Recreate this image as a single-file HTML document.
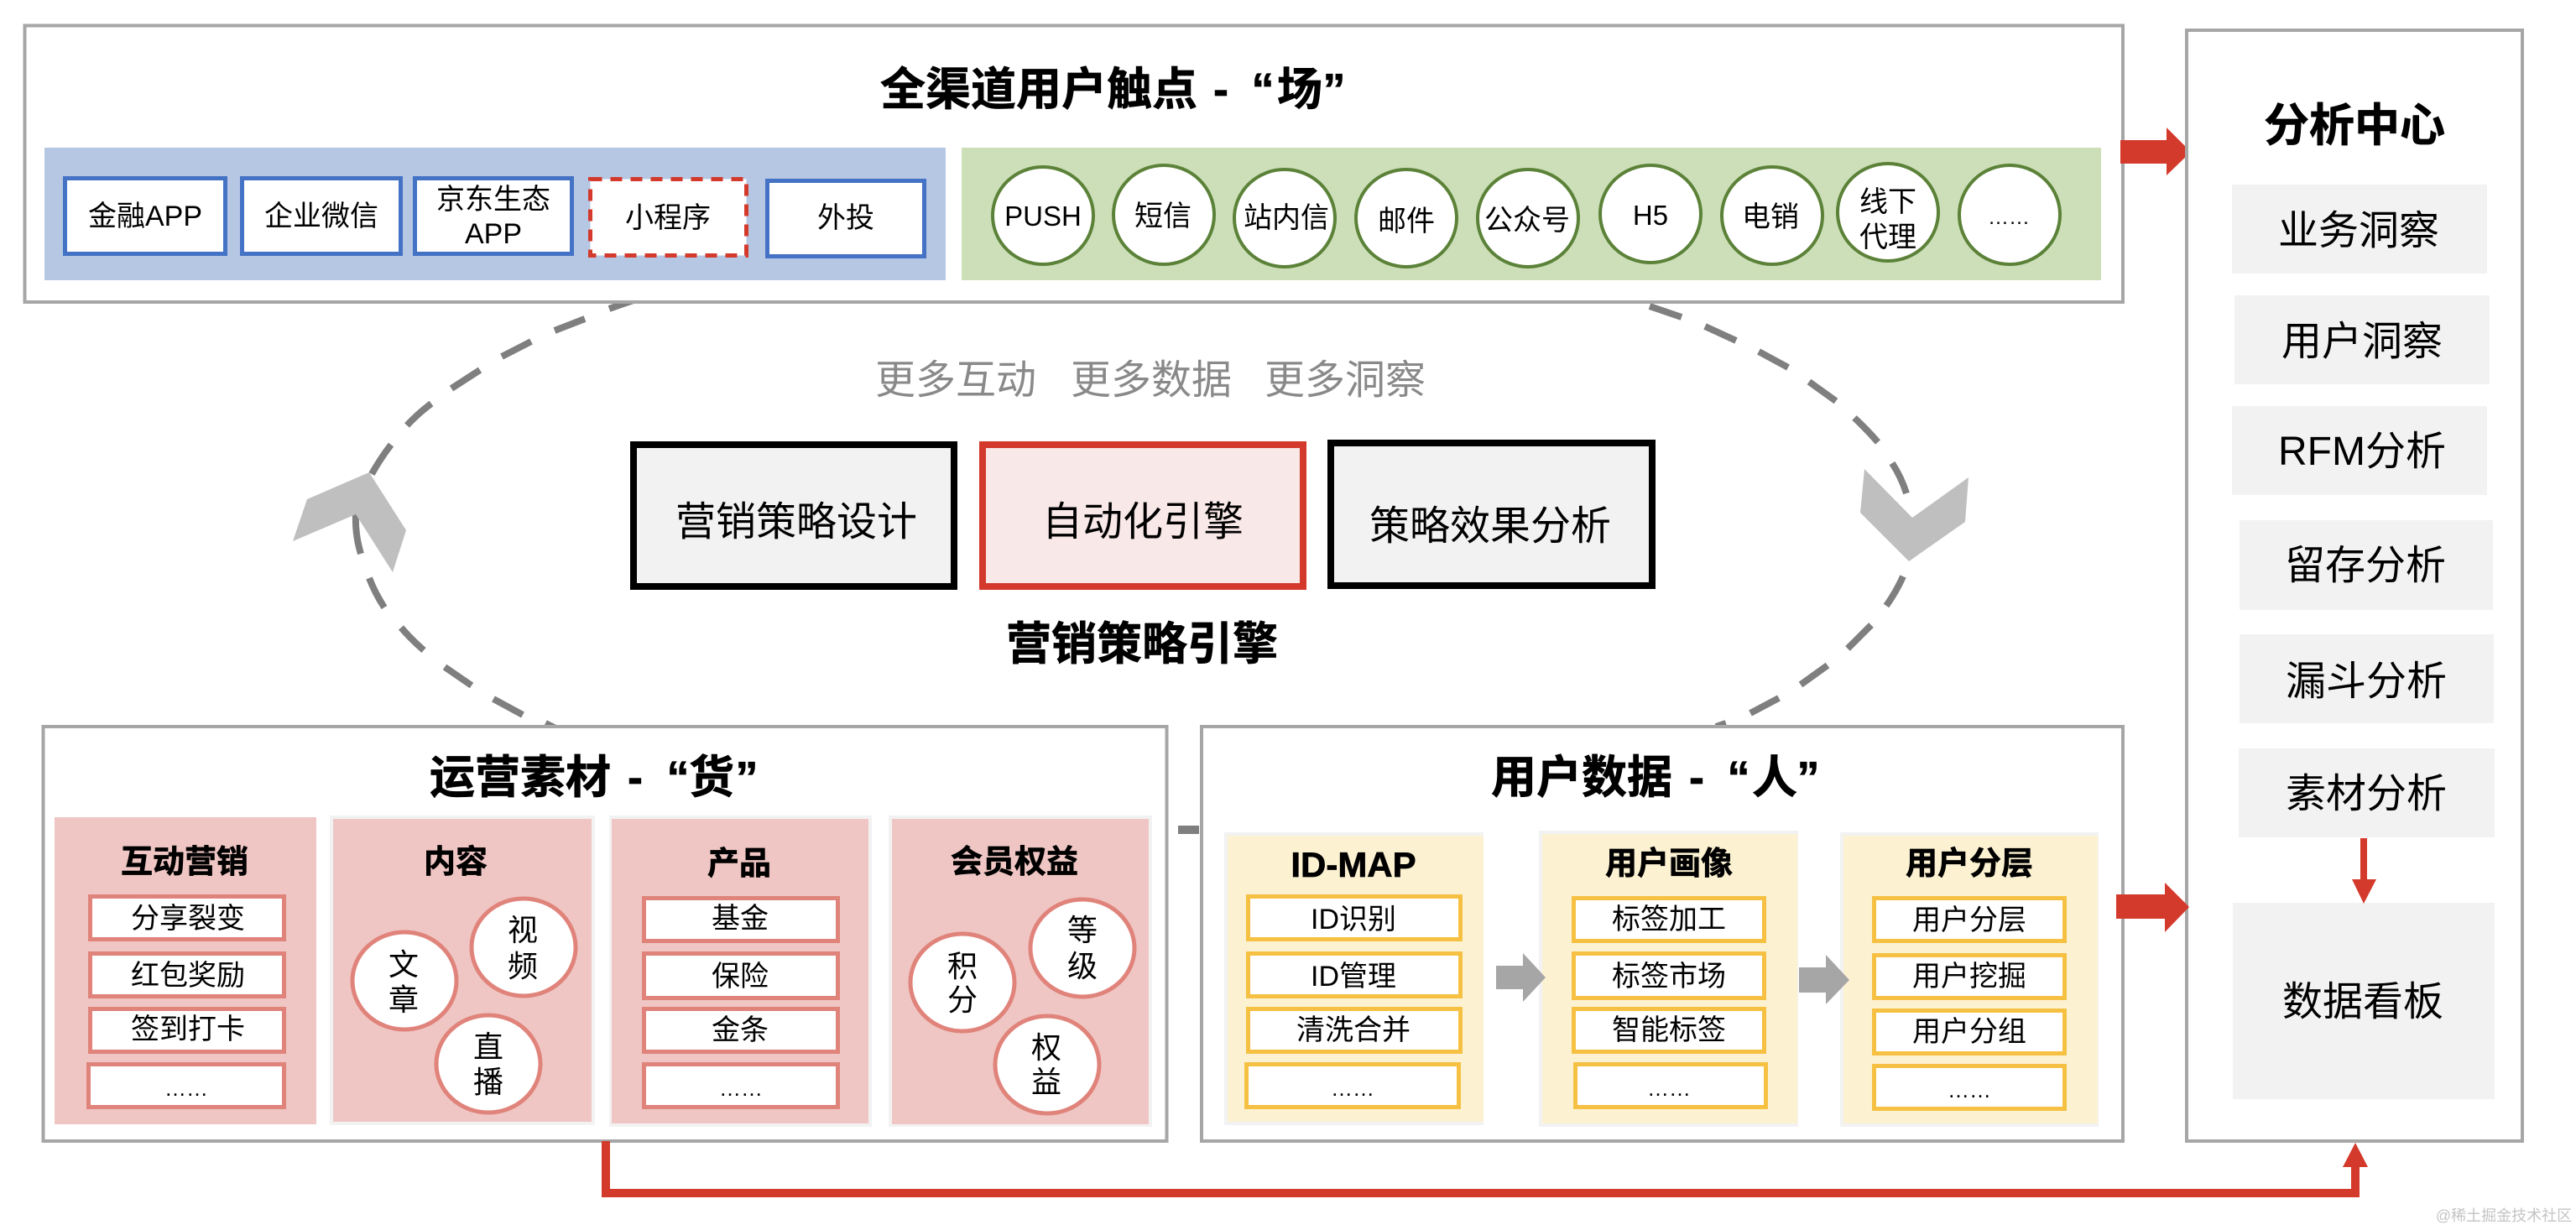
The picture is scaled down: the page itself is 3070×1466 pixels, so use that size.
<!DOCTYPE html>
<html lang="zh-CN">
<head>
<meta charset="utf-8">
<title>营销策略引擎</title>
<style>
html,body{margin:0;padding:0;background:#fff;width:3070px;height:1466px;overflow:hidden}
svg{display:block}
text{font-family:"Liberation Sans","Noto Sans CJK SC",sans-serif;text-anchor:middle;fill:#000}
.b{font-weight:700;stroke:#000;stroke-width:.7}
.frame{fill:#fff;stroke:#a6a6a6;stroke-width:4}
.blue{fill:#fff;stroke:#4472c4;stroke-width:5}
.gr{fill:#fff;stroke:#5b8238;stroke-width:4}
.pk{fill:#fff;stroke:#e0837b;stroke-width:5}
.ye{fill:#fff;stroke:#f6c143;stroke-width:5}
.gy{fill:#f2f2f2}
.pi{fill:#efc6c3}
.yl{fill:#fcf2d2}
.d{stroke:#7f7f7f;stroke-width:8;fill:none}
</style>
</head>
<body>
<svg width="3070" height="1466" viewBox="0 0 3070 1466" xmlns="http://www.w3.org/2000/svg">
<!-- dashed loop -->
<g class="d">
<path d="M770 353Q748 360 726 368"/>
<path d="M697 380L661 394"/>
<path d="M633 407L598 425"/>
<path d="M572 441L538 463"/>
<path d="M514 481Q498 493 485 507"/>
<path d="M466 530Q453 547 443 565"/>
<path d="M424 613Q423 637 430 660"/>
<path d="M440 689Q447 707 458 724"/>
<path d="M478 748Q490 762 505 775"/>
<path d="M530 795L562 817"/>
<path d="M588 833L623 852"/>
<path d="M650 862L662 868"/>
<path d="M1966 365L2004 378"/>
<path d="M2032 389L2069 406"/>
<path d="M2096 419L2131 438"/>
<path d="M2156 455L2188 478"/>
<path d="M2210 498Q2225 512 2238 527"/>
<path d="M2255 552Q2266 569 2272 588"/>
<path d="M2268 687Q2260 705 2248 722"/>
<path d="M2230 745L2202 773"/>
<path d="M2178 793L2146 816"/>
<path d="M2120 832L2086 850"/>
<path d="M2057 862L2045 866"/>
</g>
<rect x="1404" y="984" width="25" height="10" fill="#7f7f7f"/>
<polygon points="440,563 484,632 468,682 424,613 349,645 366,595" fill="#bfbfbf"/>
<polygon points="2222,559 2279,617 2346,569 2342,622 2275,669 2217,611" fill="#bfbfbf"/>

<!-- top frame -->
<rect class="frame" x="29.5" y="30.5" width="2500.5" height="329.5"/>
<g class="b" font-size="54">
<text class="b" x="1238" y="125">全渠道用户触点</text>
<text class="b" x="1455" y="125">-</text>
<text class="b" x="1505" y="125">“</text>
<text class="b" x="1549" y="125">场</text>
<text class="b" x="1590" y="125">”</text>
</g>
<rect x="53" y="176" width="1074" height="158" fill="#b6c7e4"/>
<rect x="1146" y="176" width="1358" height="158" fill="#cddfb8"/>
<rect class="blue" x="77.5" y="212.5" width="191" height="90"/>
<rect class="blue" x="288.5" y="212.5" width="189" height="90"/>
<rect class="blue" x="494.5" y="212.5" width="187" height="90"/>
<rect x="703.5" y="213.5" width="186" height="91" fill="#fff" stroke="#d33a2c" stroke-width="5" stroke-dasharray="14 10"/>
<rect class="blue" x="914.5" y="215.5" width="187" height="90"/>
<g font-size="34">
<text x="173" y="269">金融APP</text>
<text x="383" y="269">企业微信</text>
<text x="588" y="249">京东生态</text>
<text x="588" y="290">APP</text>
<text x="796" y="271">小程序</text>
<text x="1008" y="271">外投</text>
</g>
<ellipse class="gr" cx="1243" cy="257" rx="60" ry="58"/>
<ellipse class="gr" cx="1387" cy="256" rx="60" ry="59"/>
<ellipse class="gr" cx="1531" cy="260" rx="60" ry="58"/>
<ellipse class="gr" cx="1676" cy="260" rx="60" ry="58"/>
<ellipse class="gr" cx="1821" cy="260" rx="60" ry="58"/>
<ellipse class="gr" cx="1967" cy="255" rx="60" ry="58"/>
<ellipse class="gr" cx="2112" cy="257" rx="60" ry="58"/>
<ellipse class="gr" cx="2250" cy="253" rx="60" ry="58"/>
<ellipse class="gr" cx="2395" cy="256" rx="60" ry="59"/>
<g font-size="34">
<text x="1243" y="269" font-size="33">PUSH</text>
<text x="1386" y="269">短信</text>
<text x="1533" y="271">站内信</text>
<text x="1676" y="275">邮件</text>
<text x="1820" y="274">公众号</text>
<text x="1967" y="268" font-size="33">H5</text>
<text x="2110" y="270">电销</text>
<text x="2250" y="252">线下</text>
<text x="2250" y="294">代理</text>
<text x="2394" y="267" font-size="25">……</text>
</g>
<polygon points="2527,167 2582,167 2582,152 2611,181 2582,209 2582,195 2527,195" fill="#d33a2c"/>

<!-- analysis column -->
<rect class="frame" x="2606" y="36" width="400" height="1324"/>
<text class="b" x="2806" y="168" font-size="54">分析中心</text>
<rect class="gy" x="2660" y="220" width="304" height="106"/>
<rect class="gy" x="2663" y="352" width="304" height="106"/>
<rect class="gy" x="2660" y="484" width="304" height="106"/>
<rect class="gy" x="2669" y="620" width="302" height="107"/>
<rect class="gy" x="2669" y="756" width="303" height="106"/>
<rect class="gy" x="2668" y="892" width="305" height="106"/>
<rect class="gy" x="2661" y="1076" width="312" height="234"/>
<g font-size="48">
<text x="2811" y="291">业务洞察</text>
<text x="2815" y="423">用户洞察</text>
<text x="2815" y="554">RFM分析</text>
<text x="2819" y="690">留存分析</text>
<text x="2820" y="828">漏斗分析</text>
<text x="2820" y="962">素材分析</text>
<text x="2816" y="1210">数据看板</text>
</g>
<rect x="2813" y="999" width="8" height="50" fill="#d33a2c"/>
<polygon points="2803,1048 2832,1048 2817,1077" fill="#d33a2c"/>

<!-- center -->
<g font-size="48">
<text x="1139" y="469" style="fill:#898989">更多互动</text>
<text x="1372" y="469" style="fill:#898989">更多数据</text>
<text x="1603" y="469" style="fill:#898989">更多洞察</text>
</g>
<rect x="755" y="530" width="382" height="169" fill="#f2f2f2" stroke="#000" stroke-width="8"/>
<rect x="1171" y="530" width="382" height="169" fill="#f8e8e7" stroke="#d33a2c" stroke-width="8"/>
<rect x="1586" y="528" width="383" height="170" fill="#f2f2f2" stroke="#000" stroke-width="8"/>
<g font-size="48">
<text x="949" y="638">营销策略设计</text>
<text x="1362" y="638">自动化引擎</text>
<text x="1776" y="643">策略效果分析</text>
</g>
<text class="b" x="1361" y="786" font-size="54">营销策略引擎</text>

<!-- bottom left -->
<rect class="frame" x="51.5" y="866" width="1339" height="494"/>
<g font-size="54">
<text class="b" x="620" y="945">运营素材</text>
<text class="b" x="757" y="945">-</text>
<text class="b" x="808" y="945">“</text>
<text class="b" x="848" y="945">货</text>
<text class="b" x="890" y="945">”</text>
</g>
<rect class="pi" x="65" y="974" width="312" height="366"/>
<rect class="gy" x="393" y="972" width="316" height="369"/>
<rect class="pi" x="397" y="976" width="308" height="361"/>
<rect class="gy" x="726" y="972" width="313" height="371"/>
<rect class="pi" x="729" y="976" width="306" height="363"/>
<rect class="gy" x="1059" y="972" width="314" height="371"/>
<rect class="pi" x="1063" y="976" width="306" height="364"/>
<g font-size="38">
<text class="b" x="220" y="1040">互动营销</text>
<text class="b" x="543" y="1040">内容</text>
<text class="b" x="881" y="1042">产品</text>
<text class="b" x="1209" y="1040">会员权益</text>
</g>
<rect class="pk" x="107.5" y="1068.5" width="231" height="51"/>
<rect class="pk" x="107.5" y="1136.5" width="231" height="51"/>
<rect class="pk" x="107.5" y="1202.5" width="231" height="51"/>
<rect class="pk" x="105.5" y="1268.5" width="233" height="51"/>
<rect class="pk" x="767.5" y="1070.5" width="231" height="51"/>
<rect class="pk" x="767.5" y="1136.5" width="231" height="53"/>
<rect class="pk" x="767.5" y="1202.5" width="231" height="51"/>
<rect class="pk" x="767.5" y="1268.5" width="231" height="51"/>
<g font-size="34">
<text x="224" y="1106">分享裂变</text>
<text x="224" y="1174">红包奖励</text>
<text x="224" y="1238">签到打卡</text>
<text x="222" y="1306" font-size="26">……</text>
<text x="882" y="1106">基金</text>
<text x="882" y="1175">保险</text>
<text x="882" y="1239">金条</text>
<text x="883" y="1306" font-size="26">……</text>
</g>
<ellipse class="pk" cx="624" cy="1129" rx="62" ry="58"/>
<ellipse class="pk" cx="482" cy="1169" rx="62" ry="58"/>
<ellipse class="pk" cx="582" cy="1268" rx="62" ry="58"/>
<ellipse class="pk" cx="1290" cy="1130" rx="62" ry="58"/>
<ellipse class="pk" cx="1147" cy="1171" rx="62" ry="58"/>
<ellipse class="pk" cx="1248" cy="1269" rx="62" ry="58"/>
<g font-size="36">
<text x="623" y="1121">视</text><text x="623" y="1164">频</text>
<text x="481" y="1162">文</text><text x="481" y="1204">章</text>
<text x="582" y="1260">直</text><text x="582" y="1302">播</text>
<text x="1290" y="1121">等</text><text x="1290" y="1164">级</text>
<text x="1147" y="1164">积</text><text x="1147" y="1204">分</text>
<text x="1247" y="1261">权</text><text x="1247" y="1302">益</text>
</g>

<!-- bottom right -->
<rect class="frame" x="1432" y="866" width="1098" height="494"/>
<g font-size="54">
<text class="b" x="1885" y="945">用户数据</text>
<text class="b" x="2022" y="945">-</text>
<text class="b" x="2072" y="945">“</text>
<text class="b" x="2115" y="945">人</text>
<text class="b" x="2155" y="945">”</text>
</g>
<rect class="gy" x="1459" y="992" width="309" height="349"/>
<rect class="yl" x="1463" y="996" width="305" height="341"/>
<rect class="gy" x="1834" y="990" width="309" height="353"/>
<rect class="yl" x="1838" y="994" width="304" height="345"/>
<rect class="gy" x="2193" y="992" width="308" height="351"/>
<rect class="yl" x="2197" y="996" width="303" height="343"/>
<text class="b" x="1613" y="1045" font-size="42">ID-MAP</text>
<text class="b" x="1989" y="1042" font-size="38">用户画像</text>
<text class="b" x="2347" y="1042" font-size="38">用户分层</text>
<rect class="ye" x="1487.5" y="1068.5" width="253" height="51"/>
<rect class="ye" x="1487.5" y="1136.5" width="253" height="51"/>
<rect class="ye" x="1487.5" y="1202.5" width="253" height="51"/>
<rect class="ye" x="1485.5" y="1268.5" width="253" height="51"/>
<rect class="ye" x="1875.5" y="1070.5" width="227" height="51"/>
<rect class="ye" x="1875.5" y="1136.5" width="227" height="53"/>
<rect class="ye" x="1875.5" y="1202.5" width="227" height="51"/>
<rect class="ye" x="1877.5" y="1268.5" width="227" height="51"/>
<rect class="ye" x="2233.5" y="1070.5" width="227" height="51"/>
<rect class="ye" x="2233.5" y="1138.5" width="227" height="51"/>
<rect class="ye" x="2233.5" y="1204.5" width="227" height="51"/>
<rect class="ye" x="2233.5" y="1270.5" width="227" height="51"/>
<g font-size="34">
<text x="1613" y="1107">ID识别</text>
<text x="1613" y="1175">ID管理</text>
<text x="1613" y="1239">清洗合并</text>
<text x="1612" y="1306" font-size="26">……</text>
<text x="1989" y="1107">标签加工</text>
<text x="1989" y="1175">标签市场</text>
<text x="1989" y="1239">智能标签</text>
<text x="1989" y="1306" font-size="26">……</text>
<text x="2347" y="1108">用户分层</text>
<text x="2347" y="1175">用户挖掘</text>
<text x="2347" y="1241">用户分组</text>
<text x="2347" y="1308" font-size="26">……</text>
</g>
<polygon points="1783,1151 1815,1151 1815,1136 1842,1165 1815,1194 1815,1179 1783,1179" fill="#a6a6a6"/>
<polygon points="2144,1153 2176,1153 2176,1138 2204,1168 2176,1197 2176,1183 2144,1183" fill="#a6a6a6"/>
<polygon points="2522,1066 2580,1066 2580,1052 2609,1081 2580,1111 2580,1095 2522,1095" fill="#d33a2c"/>

<!-- red connector -->
<path d="M722 1360V1422H2807V1390" fill="none" stroke="#d33a2c" stroke-width="10"/>
<polygon points="2807,1362 2822,1391 2792,1391" fill="#d33a2c"/>

<text x="2984" y="1455" font-size="18" style="fill:#c4c4c4">@稀土掘金技术社区</text>
</svg>
</body>
</html>
